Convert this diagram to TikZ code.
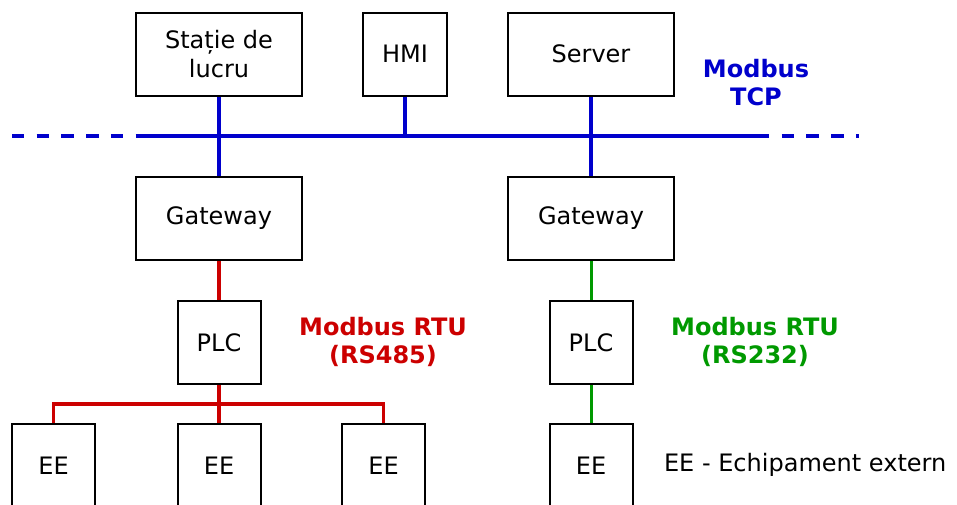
\documentclass[tikz,border=0pt]{standalone}
\usepackage{fontspec}
\setmainfont{DejaVu Sans}
\usepackage{xcolor}
\usetikzlibrary{positioning,calc}

\definecolor{tcpblue}{RGB}{0,0,204}
\definecolor{rsred}{RGB}{204,0,0}
\definecolor{rsgreen}{RGB}{0,153,0}

\begin{document}
\begin{tikzpicture}[
    x=0.5pt, y=-0.5pt,
    box/.style={draw, line width=1pt, fill=white, minimum height=41.5pt, minimum width=83pt, align=center, font=\fontsize{12}{14.5}\selectfont},
    smallbox/.style={box, minimum width=41.5pt},
    tcp/.style={tcpblue, line width=2pt},
    rtu/.style={rsred, line width=1.75pt},
    rtu2/.style={rsgreen, line width=1.5pt},
    busdash/.style={tcp, dash pattern=on 6.2pt off 6.15pt},
    label/.style={font=\fontsize{12}{14}\selectfont\bfseries, align=center},
]
\useasboundingbox (0,0) rectangle (957,504);
\clip (0,0) rectangle (957,504);

% Top level
\node[box] (statie) at (219,54) {Stație de\\lucru};
\node[smallbox, minimum width=42pt] (hmi) at (405,54) {HMI};
\node[box] (server) at (591,54) {Server};

% Modbus TCP bus
\coordinate (tcpL) at (136,136);
\coordinate (tcpR) at (757,136);
\coordinate (tcpLend) at (12,136);
\coordinate (tcpRend) at (859,136);
\draw[tcp] (tcpL) -- (tcpR);
\draw[busdash] (tcpLend) -- (tcpL);
\draw[busdash] (tcpR) -- (tcpRend);
\node[label, text=tcpblue] (tcplabel) at (756,83) {Modbus\\TCP};

% Gateways
\node[box] (gw1) at (219,218.5) {Gateway};
\node[box] (gw2) at (591,218.5) {Gateway};

\draw[tcp] (statie) -- (gw1);
\draw[tcp] (hmi) -- (hmi |- tcpL);
\draw[tcp] (server) -- (gw2);

% PLCs
\node[smallbox] (plc1) at (219,342.5) {PLC};
\node[smallbox] (plc2) at (591,342.5) {PLC};

% External equipment
\node[smallbox] (ee1) at (53.5,465.5) {EE};
\node[smallbox] (ee2) at (219,465.5) {EE};
\node[smallbox] (ee3) at (383.5,465.5) {EE};
\node[smallbox] (ee4) at (591,465.5) {EE};

% RS485 branch
\coordinate (rsbus) at (219,404);
\draw[rtu] (gw1) -- (plc1);
\draw[rtu] (plc1) -- (ee2);
\draw[rtu] (ee1.north) |- (rsbus) -| (ee3.north);
\node[label, text=rsred] (rs485) at (383,342) {Modbus RTU\\(RS485)};

% RS232 branch
\draw[rtu2] (gw2) -- (plc2);
\draw[rtu2] (plc2) -- (ee4);
\node[label, text=rsgreen] (rs232) at (755,342) {Modbus RTU\\(RS232)};

% Legend
\node[font=\fontsize{12}{14}\selectfont, anchor=west] (legend) at (657,465) {EE - Echipament extern};

\end{tikzpicture}
\end{document}
